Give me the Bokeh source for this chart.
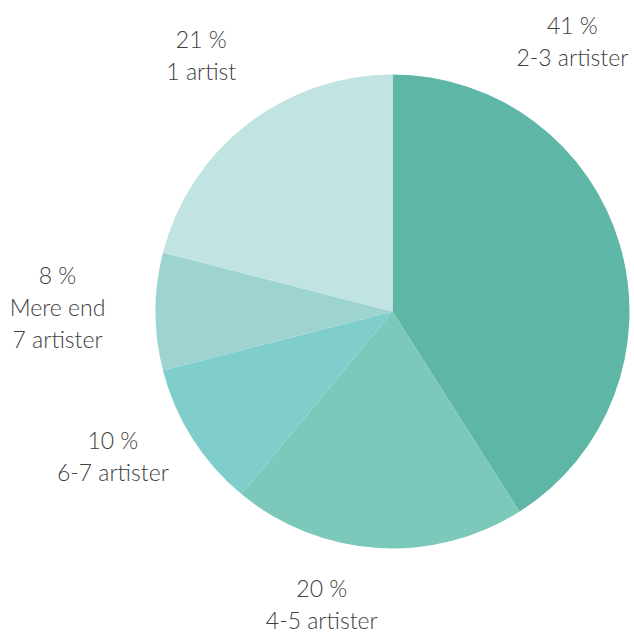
import math
from bokeh.plotting import figure
from bokeh.models import Range1d, ColumnDataSource
from bokeh.core.properties import value
from bokeh.embed import file_html
from bokeh.resources import INLINE

# ---- data ----
categories = ["2-3 artister", "4-5 artister", "6-7 artister", "Mere end\n7 artister", "1 artist"]
shares = [41, 20, 10, 8, 21]
colors = ["#5eb6a7", "#7cc8bb", "#80cecb", "#9dd4d2", "#c1e3e1"]

# ---- layout (pixels / degrees clockwise from top) ----
W, H = 634, 635
CX, CY, R = 392, H - 311, 237
label_angle = [33.6, 193.6, 242.6, 270.8, 323.3]
label_dist = [325, 301, 315, 335, 320]
LINE_H = 32

total = float(sum(shares))
starts, ends = [], []
cum = 0.0
for s in shares:
    starts.append(math.pi / 2 - 2 * math.pi * cum / total)
    cum += s
    ends.append(math.pi / 2 - 2 * math.pi * cum / total)

p = figure(width=W, height=H, x_range=Range1d(0, W), y_range=Range1d(0, H),
           output_backend="svg", toolbar_location=None, min_border=0)
p.axis.visible = False
p.grid.visible = False
p.outline_line_color = None
p.background_fill_color = "white"

src = ColumnDataSource(dict(x=[CX] * len(shares), y=[CY] * len(shares),
                            start=starts, end=ends, color=colors))
p.wedge(x="x", y="y", radius=R, start_angle="start", end_angle="end",
        direction="clock", fill_color="color", line_color=None, source=src)

tx, ty, tt = [], [], []
for cat, s, a, d in zip(categories, shares, label_angle, label_dist):
    lines = ["%d %%" % s] + cat.split("\n")
    lx = CX + d * math.sin(math.radians(a))
    ly = CY + d * math.cos(math.radians(a))
    n = len(lines)
    for i, ln in enumerate(lines):
        tx.append(lx)
        ty.append(ly + ((n - 1) / 2.0 - i) * LINE_H)
        tt.append(ln)

p.text(x=tx, y=ty, text=tt, text_align="center", text_baseline="middle",
       text_font=value("Lato Light, Lato"), text_font_size="23px",
       text_color="#404040")

open("out.html", "w").write(file_html(p, INLINE))
